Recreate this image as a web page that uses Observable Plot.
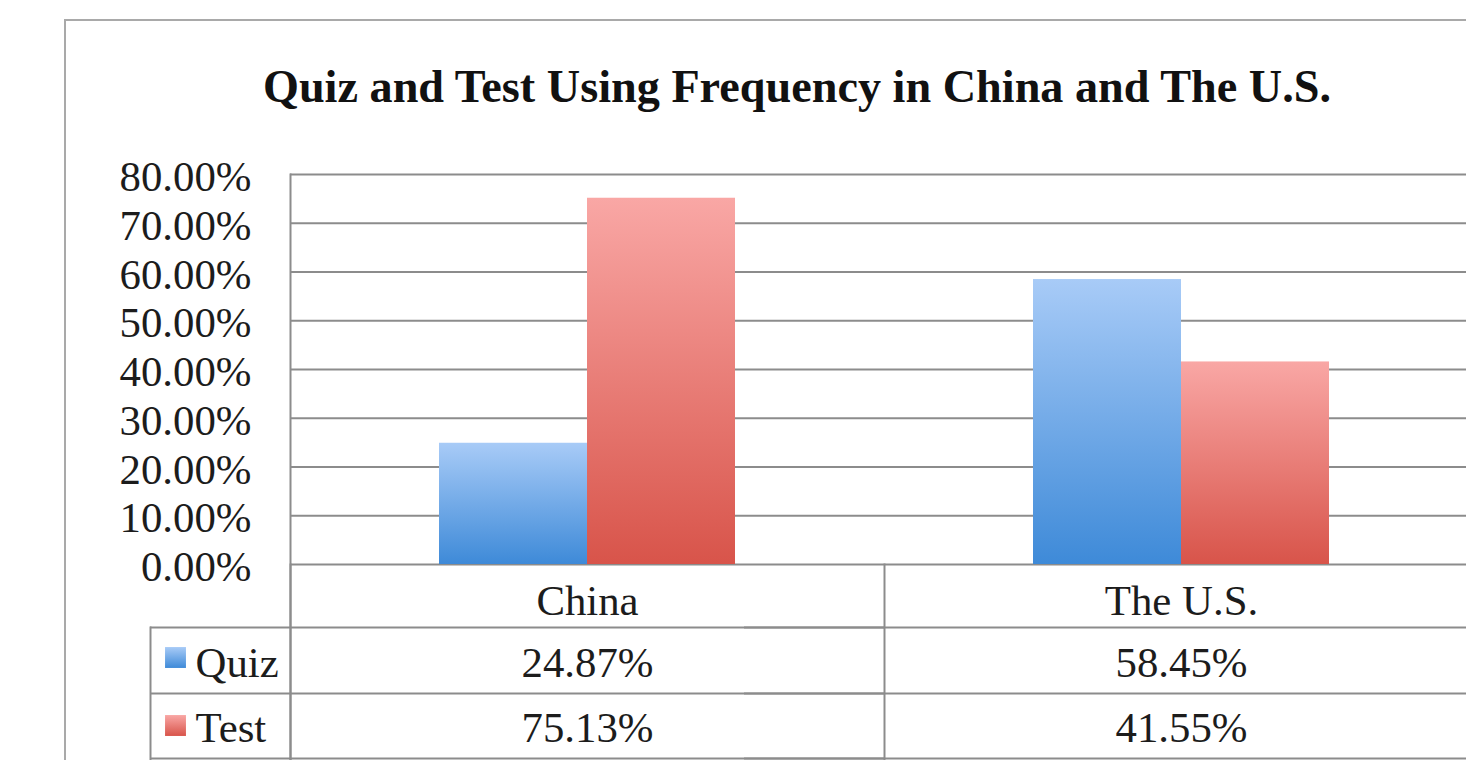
<!DOCTYPE html>
<html>
<head>
<meta charset="utf-8">
<script src="https://cdn.jsdelivr.net/npm/d3@7"></script>
<script src="https://cdn.jsdelivr.net/npm/@observablehq/plot@0.6"></script>
<style>
  html, body { margin: 0; padding: 0; background: #fff; overflow: hidden; width: 1466px; height: 760px; }
  #box { position: absolute; left: 64px; top: 19px; width: 1500px; height: 800px; border: 2px solid #a9a9a9; box-sizing: border-box; }
  #title { position: absolute; left: 797px; top: 62px; transform: translateX(-50%); white-space: nowrap;
           font-family: 'Liberation Serif', serif; font-weight: bold; color: #111; line-height: 50px; }
  #chart { position: absolute; left: 66px; top: 130px; }
</style>
</head>
<body>
<div id="box"></div>
<div id="title"></div>
<div id="chart"></div>
<script>
// ---- data ----
const title = "Quiz and Test Using Frequency in China and The U.S.";
const countries = ["China", "The U.S."];
const series = ["Quiz", "Test"];
const quizValues = [24.87, 58.45];
const testValues = [75.13, 41.55];
const yTicks = [0, 10, 20, 30, 40, 50, 60, 70, 80];

const rows = countries.flatMap((c, i) => [
  {country: c, series: "Quiz", value: quizValues[i]},
  {country: c, series: "Test", value: testValues[i]}
]);

// ---- styles ----
const gradients = {Quiz: ["#a8cbf7", "#3e8ad8"], Test: ["#f9a7a5", "#d8544a"]};
const lineStyle = {stroke: "#8c8c8c", strokeWidth: 2};
const fmt = v => v.toFixed(2) + "%";

const cv = document.createElement("canvas").getContext("2d");
function fit(text, weight, target) {
  cv.font = `${weight} 100px 'Liberation Serif'`;
  return 100 * target / cv.measureText(text).width;
}
const titleSize = fit(title, "bold", 1070);
const labelSize = fit("80.00%", "normal", 132);

const t = document.getElementById("title");
t.textContent = title;
t.style.fontSize = titleSize + "px";

// ---- layout ----
const left = 66;
const W = 1478 - left, H = 630, mT = 44, mB = 196, mL = 290 - left;
const plotH = H - mT - mB;
const rowLines = [63, 129, 194];
const rowText = [112, 177];
const swatchY = [93, 161];

const marks = [
  Plot.ruleY(yTicks, {...lineStyle}),
  ...rowLines.map(dy => Plot.ruleY([0], {...lineStyle, dy, insetLeft: -140})),
  Plot.frame({...lineStyle, facet: "super", anchor: "left", insetBottom: -mB}),
  Plot.frame({...lineStyle, anchor: "left", insetTop: plotH, insetBottom: -mB}),
  Plot.frame({...lineStyle, facet: "super", anchor: "left", insetLeft: -140, insetTop: plotH + rowLines[0], insetBottom: -mB}),
  ...series.map(s => Plot.barY(rows.filter(d => d.series === s), {
    fx: "country", x: "series", y: "value", fill: `url(#g-${s})`
  })),
  Plot.axisY({ticks: yTicks, tickFormat: fmt, tickSize: 0, tickPadding: 39, dy: 3, fontSize: labelSize, label: null}),
  Plot.axisFx({anchor: "bottom", tickSize: 0, tickPadding: 20, fontSize: labelSize, label: null}),
  ...series.map((s, i) => Plot.text(rows.filter(d => d.series === s), {
    fx: "country", text: d => fmt(d.value), frameAnchor: "bottom", dy: rowText[i], fontSize: labelSize
  })),
  ...series.map((s, i) => Plot.text([s], {
    facet: "super", text: d => d, frameAnchor: "bottom-left", textAnchor: "start",
    dx: -95, dy: rowText[i], fontSize: labelSize
  })),
  ...series.map((s, i) => Plot.dot([s], {
    facet: "super", frameAnchor: "bottom-left", symbol: "square", r: 11.8,
    dx: -115, dy: swatchY[i], fill: `url(#g-${s})`, stroke: "none"
  }))
];

const svg = Plot.plot({
  width: W, height: H,
  marginTop: mT, marginBottom: mB, marginLeft: mL, marginRight: 0,
  style: {fontFamily: "'Liberation Serif', serif", color: "#1c1c1c", background: "transparent"},
  fx: {domain: countries, padding: 0},
  x: {domain: series, paddingInner: 0, paddingOuter: 1, axis: null},
  y: {domain: [0, 80], axis: null},
  marks
});
svg.style.maxWidth = "none";
svg.style.overflow = "visible";

const defs = d3.select(svg).insert("defs", ":first-child");
for (const s of series) {
  const g = defs.append("linearGradient").attr("id", `g-${s}`)
    .attr("x1", 0).attr("y1", 0).attr("x2", 0).attr("y2", 1);
  g.append("stop").attr("offset", "0%").attr("stop-color", gradients[s][0]);
  g.append("stop").attr("offset", "100%").attr("stop-color", gradients[s][1]);
}
document.getElementById("chart").appendChild(svg);
</script>
</body>
</html>
